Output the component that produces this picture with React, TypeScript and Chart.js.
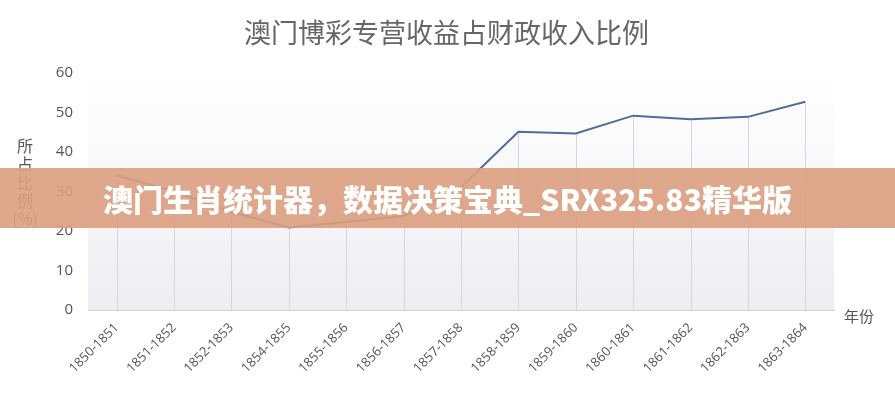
import React, { useEffect, useRef } from "react";
import { Chart, registerables } from "chart.js";

Chart.register(...registerables);

const titleText = "澳门博彩专营收益占财政收入比例";
const yTitleLines = ["所", "占", "比", "例", "(%)"];
const xTitleText = "年份";
const bannerText = "澳门生肖统计器，数据决策宝典_SRX325.83精华版";

const categories = [
  "1850-1851", "1851-1852", "1852-1853", "1854-1855", "1855-1856", "1856-1857",
  "1857-1858", "1858-1859", "1859-1860", "1860-1861", "1861-1862", "1862-1863", "1863-1864",
];
const values = [34.1, 30.0, 24.8, 20.9, 22.3, 23.8, 31.1, 45.1, 44.7, 49.2, 48.3, 48.9, 52.7];
const yMin = 0;
const yMax = 60;
const yStep = 10;

const decorPlugin = {
  id: "decor",
  beforeDraw(chart: any) {
    const { ctx, chartArea } = chart;
    const { left, right, top, bottom } = chartArea;
    ctx.save();
    const g = ctx.createLinearGradient(0, top, 0, bottom);
    g.addColorStop(0, "rgba(255,255,255,1)");
    g.addColorStop(1, "rgba(238,238,242,1)");
    ctx.fillStyle = g;
    ctx.fillRect(left, top, right - left, bottom - top);

    ctx.fillStyle = "#666";
    ctx.font = '27px "Noto Sans CJK SC"';
    ctx.textAlign = "center";
    ctx.textBaseline = "middle";
    ctx.fillText(titleText, 446.5, 33);

    ctx.fillStyle = "#555";
    ctx.font = '16px "Noto Sans CJK SC"';
    yTitleLines.forEach((t, i) => {
      ctx.fillText(t, 25, 146 + i * 18.3);
    });
    ctx.font = '15px "Noto Sans CJK SC"';
    ctx.textAlign = "left";
    ctx.fillText(xTitleText, right + 10, bottom + 6);
    ctx.restore();
  },
  beforeDatasetsDraw(chart: any) {
    const { ctx, chartArea } = chart;
    const meta = chart.getDatasetMeta(0);
    ctx.save();
    ctx.strokeStyle = "#d6d6dc";
    ctx.lineWidth = 1;
    meta.data.forEach((p: any) => {
      const x = Math.round(p.x) + 0.5;
      ctx.beginPath();
      ctx.moveTo(x, p.y);
      ctx.lineTo(x, chartArea.bottom);
      ctx.stroke();
    });
    ctx.restore();
  },
};

export default function App() {
  const ref = useRef<HTMLCanvasElement>(null);
  useEffect(() => {
    document.body.style.margin = "0";
    const chart = new Chart(ref.current!, {
      type: "line",
      data: {
        labels: categories,
        datasets: [
          {
            data: values,
            borderColor: "#4d6e9b",
            borderWidth: 2,
            pointRadius: 0,
            tension: 0,
            fill: false,
          },
        ],
      },
      options: {
        responsive: false,
        animation: false,
        layout: { padding: { left: 0, right: 61, top: 73, bottom: 0 } },
        plugins: { legend: { display: false }, tooltip: { enabled: false }, title: { display: false } },
        scales: {
          x: {
            offset: true,
            grid: { display: false, drawTicks: false },
            border: { display: true, color: "#d0d0d4", width: 1 },
            ticks: {
              autoSkip: false,
              maxRotation: 45,
              minRotation: 45,
              padding: 10,
              color: "#555",
              font: { family: '"Open Sans"', size: 13 },
            },
            afterFit(scale: any) {
              scale.height = 87;
            },
          },
          y: {
            min: yMin,
            max: yMax,
            grid: { display: false, drawTicks: false },
            border: { display: false },
            ticks: {
              stepSize: yStep,
              padding: 15,
              color: "#555",
              font: { family: '"Open Sans"', size: 15 },
            },
            afterFit(scale: any) {
              scale.width = 88;
            },
          },
        },
      },
      plugins: [decorPlugin],
    });
    return () => chart.destroy();
  }, []);

  return (
    <div style={{ position: "relative", width: 895, height: 397, background: "#fff" }}>
      <canvas ref={ref} width={895} height={397} style={{ display: "block" }} />
      <div
        style={{
          position: "absolute",
          left: 0,
          top: 168,
          width: 895,
          height: 60,
          background: "rgba(219,159,127,0.9)",
          display: "flex",
          alignItems: "center",
          justifyContent: "center",
          color: "#fff",
          fontFamily: '"Noto Sans CJK SC"',
          fontWeight: 900,
          fontSize: 30,
          whiteSpace: "nowrap",
        }}
      >
        {bannerText}
      </div>
    </div>
  );
}
